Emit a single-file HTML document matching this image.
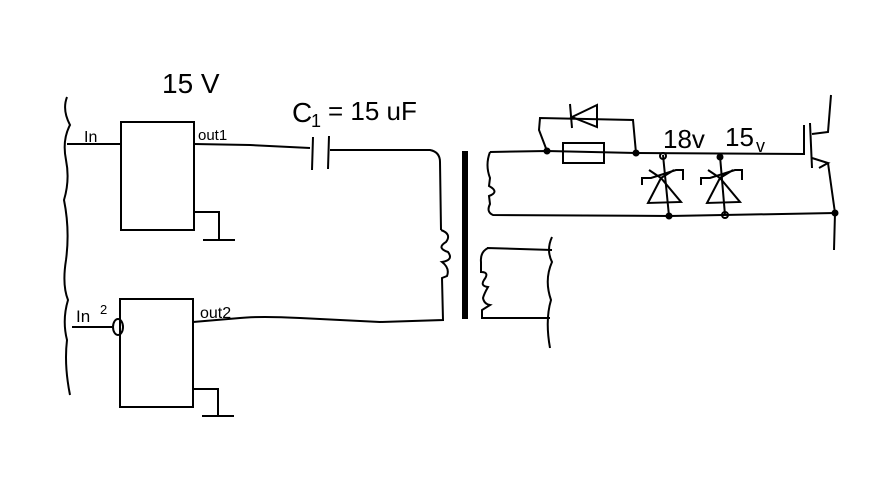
<!DOCTYPE html><html><head><style>body{margin:0;background:#fff}svg{display:block}</style></head><body>
<svg width="875" height="485" viewBox="0 0 875 485" xmlns="http://www.w3.org/2000/svg" font-family="Liberation Sans, sans-serif">
<g fill="none" stroke="#000" stroke-width="2">
<path d="M67,97 Q62,110 70,125 Q62,140 66,160 Q70,180 64,200 Q70,230 66,260 Q62,285 68,300 Q62,320 67,340 Q64,365 70,395"/>
<rect x="121" y="122" width="73" height="108"/>
<rect x="120" y="299" width="73" height="108"/>
<path d="M194,212 H219 V240 M203,240 H235"/>
<path d="M193,389 H218 V416 M202,416 H234"/>
<path d="M67,144 H121"/>
<path d="M72,327 H112"/>
<ellipse cx="118" cy="327" rx="5" ry="8"/>
<path d="M194,144 L250,145 L310,148"/>
<path d="M313,137 L312,170 M329,136 L328,169"/>
<path d="M330,150 L430,150 Q440,152 440,162 L441,230"/>
<path d="M441,230 Q452,234 446,242 Q436,248 448,252 Q454,260 442,262 Q450,268 447,276 L442,278 L443,320 L380,322 Q340,320 300,318 Q260,316 240,318 L193,322"/>
<rect x="463" y="152" width="4" height="166" fill="#000"/>
<path d="M490,152 L547,151 L636,153 L805,154"/>
<path d="M490,152 Q485,165 490,178 L489,186 Q500,192 489,196 L490,204 Q486,212 493,215 L670,216 L835,213"/>
<rect x="563" y="143" width="41" height="20"/>
<path d="M547,151 L539,130 L540,118 L633,120 L636,153"/>
<path d="M570,104 L572,128 M597,105 L572,117 L597,127 Z"/>
<path d="M663,155 L669,216 M720,156 L725,215"/>
<path d="M642,185 L642,178 L651,178 L676,170 L683,170 L683,180 M649,170 L661,178 L681,202 L648,203 L661,178 L674,170"/>
<path d="M701,185 L701,178 L710,178 L735,170 L742,170 L742,180 M708,170 L720,178 L740,202 L707,203 L720,178 L733,170"/>
<path d="M804,125 L804,155 M810,123 L812,168 M812,134 L828,132 L831,95 M812,158 L828,163 L819,168 M828,163 L835,213 L834,250"/>
<path d="M487,248 L552,250 M488,248 Q480,252 481,262 L481,272 Q490,272 484,280 Q480,286 488,287 Q484,294 483,298 Q484,304 490,305 L482,310 L482,318 L550,318"/>
<path d="M552,237 Q546,250 552,262 Q544,280 551,300 Q545,320 550,348"/>
</g>
<g fill="#000">
<circle cx="547" cy="151" r="3.5"/><circle cx="636" cy="153" r="3.5"/>
<circle cx="663" cy="156" r="3" fill="none" stroke="#000" stroke-width="2"/>
<circle cx="720" cy="157" r="3.5"/><circle cx="669" cy="216" r="3.5"/>
<circle cx="725" cy="215" r="3" fill="none" stroke="#000" stroke-width="2"/>
<circle cx="835" cy="213" r="3.5"/>
</g>
<g fill="#000">
<text x="162" y="93" font-size="28">15 V</text>
<text x="292" y="122" font-size="28">C</text>
<text x="311" y="127" font-size="18">1</text>
<text x="328" y="120" font-size="26">= 15 uF</text>
<text x="663" y="148" font-size="26">18v</text>
<text x="725" y="146" font-size="26">15</text>
<text x="756" y="152" font-size="18">v</text>
<text x="84" y="142" font-size="16">In</text>
<text x="198" y="140" font-size="15">out1</text>
<text x="76" y="322" font-size="17">In</text>
<text x="100" y="314" font-size="13">2</text>
<text x="200" y="318" font-size="16">out2</text>
</g>
</svg></body></html>
